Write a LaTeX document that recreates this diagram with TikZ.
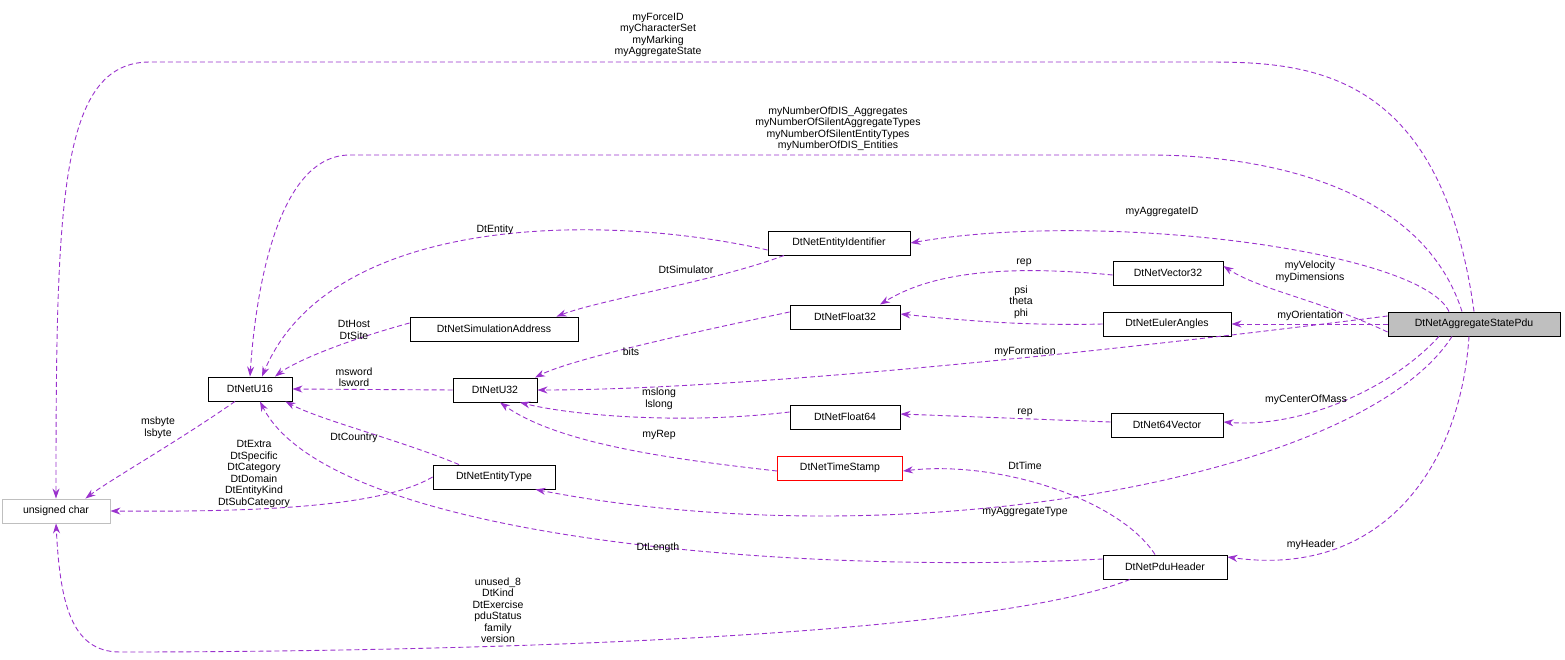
\documentclass[tikz,border=0pt]{standalone}
\usepackage{fontspec}
\setmainfont{Liberation Sans}
\usetikzlibrary{arrows.meta}
\definecolor{edgepurple}{RGB}{154,50,205}
\definecolor{boxgray}{RGB}{191,191,191}
\tikzset{%
    cls/.style={draw=black,fill=white,line width=0.9pt,minimum height=24pt,inner sep=2pt,font=\fontsize{10.5}{12}\selectfont},
    rel/.style={draw=edgepurple,line width=0.9pt,dash pattern=on 5pt off 3pt,-{Stealth[length=10pt,width=7pt]}},
    lbl/.style={align=center,inner sep=0pt,font=\fontsize{10.5}{11.5}\selectfont}
}
\begin{document}
\begin{tikzpicture}[x=1pt,y=-1pt]
\useasboundingbox (0,0) rectangle (1565,660);

% classes
\node[cls,fill=boxgray,minimum width=172pt] (pdu) at (1474,324) {DtNetAggregateStatePdu};
\node[cls,draw=boxgray,minimum width=108pt] (uc) at (56,511) {unsigned char};
\node[cls,minimum width=84pt] (u16) at (250,389) {DtNetU16};
\node[cls,minimum width=142pt] (eid) at (839,243) {DtNetEntityIdentifier};
\node[cls,minimum width=110pt] (v32) at (1168,273) {DtNetVector32};
\node[cls,minimum width=168pt] (sim) at (494,329) {DtNetSimulationAddress};
\node[cls,minimum width=110pt] (f32) at (845,317) {DtNetFloat32};
\node[cls,minimum width=128pt] (eul) at (1167,324) {DtNetEulerAngles};
\node[cls,minimum width=84pt] (u32) at (495,390) {DtNetU32};
\node[cls,minimum width=110pt] (f64) at (845,417) {DtNetFloat64};
\node[cls,minimum width=112pt] (v64) at (1167,425) {DtNet64Vector};
\node[cls,draw=red,minimum width=125pt] (ts) at (840,468) {DtNetTimeStamp};
\node[cls,minimum width=122pt] (et) at (494,477) {DtNetEntityType};
\node[cls,minimum width=124pt] (ph) at (1165,567) {DtNetPduHeader};

% relations from the pdu
\draw[rel] (pdu.north) .. controls (1440,62) and (1300,62) .. (1200,62) -- (150,62) .. controls (60,62) and (56,200) .. (uc.north);
\draw[rel] ([xshift=-12pt]pdu.north) .. controls (1420,180) and (1250,155) .. (1150,155) -- (350,155) .. controls (275,155) and (255,300) .. (u16.north);
\draw[rel] ([xshift=-25pt]pdu.north) .. controls (1420,250) and (1100,210) .. (eid.east);
\draw[rel] ([yshift=-8pt]pdu.west) .. controls (1320,300) and (1260,290) .. ([yshift=7pt]v32.east);
\draw[rel] (pdu.west) -- (eul.east);
\draw[rel] ([yshift=8pt]pdu.west) .. controls (1000,365) and (700,390) .. (u32.east);
\draw[rel] ([xshift=-35pt]pdu.south) .. controls (1390,390) and (1300,428) .. ([yshift=3pt]v64.east);
\draw[rel] ([xshift=-22pt]pdu.south) .. controls (1360,480) and (900,560) .. ([xshift=-20pt]et.south east);
\draw[rel] ([xshift=-5pt]pdu.south) .. controls (1460,470) and (1380,578) .. ([yshift=10pt]ph.east);

% relations between members
\draw[rel] ([yshift=-7pt]eid.west) .. controls (600,212) and (330,215) .. ([xshift=12pt]u16.north);
\draw[rel] ([xshift=-55pt]eid.south) .. controls (720,280) and (600,300) .. ([xshift=-22pt]sim.north east);
\draw[rel] ([yshift=-2pt]v32.west) .. controls (980,262) and (920,280) .. ([xshift=35pt]f32.north);
\draw[rel] (eul.west) .. controls (1020,326) and (960,320) .. ([yshift=3pt]f32.east);
\draw[rel] ([yshift=6pt]sim.west) .. controls (330,345) and (290,365) .. ([xshift=25pt]u16.north);
\draw[rel] ([yshift=5pt]f32.west) .. controls (680,335) and (570,360) .. ([xshift=40pt]u32.north);
\draw[rel] (u32.west) -- (u16.east);
\draw[rel] ([yshift=5pt]f64.west) .. controls (680,425) and (570,415) .. ([xshift=25pt]u32.south);
\draw[rel] ([yshift=3pt]v64.west) -- ([yshift=3pt]f64.east);
\draw[rel] ([yshift=-3pt]ts.west) .. controls (680,460) and (560,445) .. ([xshift=5pt]u32.south);
\draw[rel] ([xshift=-15pt]u16.south) .. controls (180,440) and (110,480) .. ([xshift=-25pt]uc.north east);
\draw[rel] ([xshift=-35pt]et.north) .. controls (400,440) and (320,420) .. ([xshift=-7pt]u16.south east);
\draw[rel] (et.west) .. controls (380,508) and (250,512) .. (uc.east);
\draw[rel] ([xshift=-10pt]ph.north) .. controls (1120,500) and (1000,460) .. ([yshift=-3pt]ts.east);
\draw[rel] ([yshift=8pt]ph.west) .. controls (800,575) and (330,540) .. ([xshift=10pt]u16.south);
\draw[rel] ([xshift=-35pt]ph.south) .. controls (950,652) and (200,652) .. (120,652) .. controls (70,652) and (60,600) .. (uc.south);

% labels
\node[lbl] (lForce) at (658,35) {myForceID\\myCharacterSet\\myMarking\\myAggregateState};
\node[lbl] (lNumber) at (838,129) {myNumberOfDIS\_Aggregates\\myNumberOfSilentAggregateTypes\\myNumberOfSilentEntityTypes\\myNumberOfDIS\_Entities};
\node[lbl] (lAggId) at (1162,212) {myAggregateID};
\node[lbl] (lVel) at (1310,272) {myVelocity\\myDimensions};
\node[lbl] (lOri) at (1310,316) {myOrientation};
\node[lbl] (lForm) at (1025,352) {myFormation};
\node[lbl] (lCom) at (1306,400) {myCenterOfMass};
\node[lbl] (lAggType) at (1025,512) {myAggregateType};
\node[lbl] (lHeader) at (1311,545) {myHeader};
\node[lbl] (lEntity) at (495,230) {DtEntity};
\node[lbl] (lSimulator) at (686,270) {DtSimulator};
\node[lbl] (lRep1) at (1024,263) {rep};
\node[lbl] (lAngles) at (1021,302) {psi\\theta\\phi};
\node[lbl] (lHost) at (354,330) {DtHost\\DtSite};
\node[lbl] (lBits) at (631,352) {bits};
\node[lbl] (lWord) at (354,377) {msword\\lsword};
\node[lbl] (lLong) at (659,399) {mslong\\lslong};
\node[lbl] (lRep2) at (1025,413) {rep};
\node[lbl] (lMyRep) at (659,435) {myRep};
\node[lbl] (lByte) at (158,428) {msbyte\\lsbyte};
\node[lbl] (lCountry) at (354,438) {DtCountry};
\node[lbl] (lKinds) at (254,474) {DtExtra\\DtSpecific\\DtCategory\\DtDomain\\DtEntityKind\\DtSubCategory};
\node[lbl] (lTime) at (1025,466) {DtTime};
\node[lbl] (lLength) at (658,548) {DtLength};
\node[lbl] (lStatus) at (498,610) {unused\_8\\DtKind\\DtExercise\\pduStatus\\family\\version};
\end{tikzpicture}
\end{document}
